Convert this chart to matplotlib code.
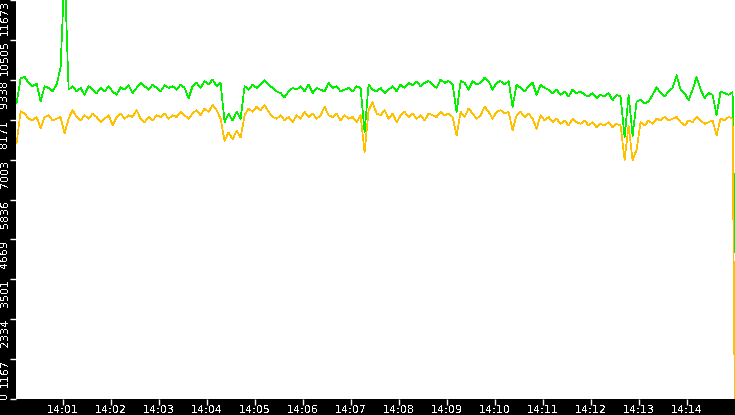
import pandas as pd
import matplotlib
matplotlib.use('Agg')
import matplotlib.pyplot as plt
import matplotlib.dates as mdates

# samples every 5 s from 14:00:02, last sample is the drop at the end
start = '2024-01-01 14:00:02'
step_s = 5

green = [8650, 9380, 9420, 9250, 9150, 9230, 8700, 9150, 9100, 9000,
         9200, 9700, 12600, 9050, 9150, 9000, 9100, 8900, 9150, 9050,
         8950, 9100, 9000, 9150, 9000, 8900, 9120, 9050, 9180, 8950,
         9100, 9250, 9150, 9050, 9200, 9100, 9000, 9180, 9100, 9150,
         9050, 9200, 9100, 8800, 9150, 9250, 9100, 9300, 9200, 9350,
         9150, 9250, 8100, 8350, 8150, 8400, 8200, 9150, 9050, 9200,
         9100, 9200, 9330, 9200, 9100, 9000, 8950, 8830, 9000, 9100,
         9050, 9150, 9000, 9200, 8950, 9100, 9050, 9000, 9250, 9100,
         9150, 9000, 9050, 9100, 9000, 9150, 9100, 7800, 9200, 9050,
         9000, 9100, 8950, 9050, 9150, 9000, 9200, 9100, 9250, 9180,
         9280, 9150, 9250, 9300, 9200, 9100, 9350, 9250, 9300, 9200,
         8390, 9300, 9250, 9050, 9300, 9200, 9250, 9400, 9300, 9050,
         9250, 9300, 9200, 9300, 8550, 9200, 9100, 9000, 9150, 9250,
         8900, 9200, 9100, 9050, 8950, 9050, 8900, 9000, 8850, 9050,
         8950, 9000, 8900, 8850, 8950, 8800, 8900, 8850, 8950, 8740,
         8900, 8850, 7650, 8900, 7700, 8700, 8750, 8650, 8700, 8900,
         9120, 8950, 8850, 9000, 9100, 9470, 9050, 8950, 8740, 9050,
         9420, 9050, 8800, 8950, 8900, 8300, 9000, 8950, 8900, 8980,
         4300]

orange = [7480, 8420, 8350, 8200, 8150, 8250, 7920, 8250, 8300, 8150,
          8200, 8250, 7770, 8200, 8450, 8250, 8150, 8300, 8200, 8350,
          8250, 8100, 8200, 8300, 8010, 8250, 8350, 8200, 8300, 8250,
          8450, 8200, 8100, 8250, 8150, 8300, 8250, 8350, 8200, 8300,
          8250, 8400, 8300, 8200, 8350, 8450, 8300, 8500, 8400, 8600,
          8450, 8200, 7550, 7800, 7600, 7850, 7650, 8300, 8500, 8400,
          8550, 8450, 8600, 8400, 8250, 8200, 8300, 8150, 8250, 8100,
          8300, 8200, 8400, 8250, 8350, 8200, 8300, 8550, 8300, 8250,
          8350, 8150, 8300, 8200, 8250, 8100, 8300, 7215, 8450, 8680,
          8350, 8300, 8450, 8200, 8350, 8100, 8300, 8400, 8250, 8350,
          8200, 8300, 8150, 8350, 8300, 8250, 8400, 8300, 8350, 8250,
          7714, 8400, 8250, 8500, 8350, 8200, 8300, 8550, 8400, 8200,
          8400, 8450, 8350, 8400, 7860, 8300, 8400, 8250, 8350, 8200,
          7900, 8300, 8150, 8250, 8100, 8200, 8050, 8150, 8000, 8200,
          8100, 8050, 8150, 8000, 8100, 7950, 8050, 8000, 8100, 7950,
          8050, 8000, 7000, 8000, 6980, 7300, 8100, 8000, 8150, 8050,
          8200, 8150, 8250, 8150, 8200, 8250, 8100, 8000, 8150, 8100,
          8250, 8150, 8050, 8100, 8150, 7714, 8200, 8150, 8250, 8200,
          0]

y_ticks = [0, 1167, 2334, 3501, 4669, 5836, 7003, 8171, 9338, 10505, 11673]

times = pd.date_range(start, periods=len(green) - 1, freq=f'{step_s}s')
times = times.append(pd.DatetimeIndex([pd.Timestamp('2024-01-01 14:14:59.6')]))

plt.rcParams['text.antialiased'] = False

fig = plt.figure(figsize=(7.35, 4.15), dpi=100, facecolor='black')
ax = fig.add_axes([16 / 735, 16 / 415, 719 / 735, 399 / 415])
ax.set_facecolor('white')

ax.plot(times, green, color='#00f000', linewidth=0.5, antialiased=False)
ax.plot(times, orange, color='#ffc000', linewidth=0.5, antialiased=False)

ax.set_ylim(0, 11673)
ax.set_xlim(pd.Timestamp('2024-01-01 14:00:01.25'), pd.Timestamp('2024-01-01 14:15:00'))

ax.set_yticks(y_ticks)
ax.set_yticklabels([str(v) for v in y_ticks], rotation=90)
for i, lab in enumerate(ax.get_yticklabels()):
    lab.set_va('bottom' if i == 0 else 'top')
ax.xaxis.set_major_locator(mdates.MinuteLocator(byminute=range(1, 15)))
ax.xaxis.set_major_formatter(mdates.DateFormatter('%H:%M'))

ax.tick_params(colors='white', labelsize=8, length=4, width=1, pad=0.5)
for s in ax.spines.values():
    s.set_visible(False)

fig.savefig('out.png', dpi=100, facecolor='black')
